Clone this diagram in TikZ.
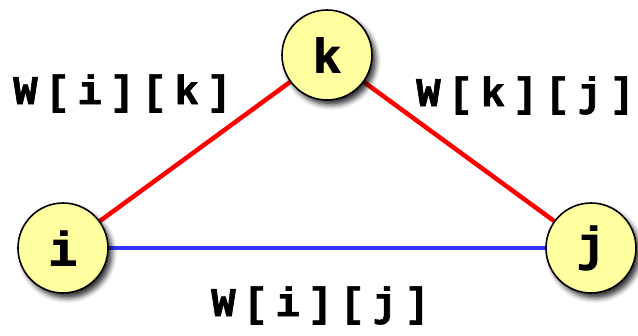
\documentclass[tikz,border=0pt]{standalone}
\usepackage{fontspec}
\usetikzlibrary{shadows.blur}
\definecolor{nodefill}{HTML}{FFFF9F}
\definecolor{edgered}{HTML}{FF0000}
\definecolor{edgeblue}{HTML}{3333FF}
\newfontfamily\labfont[LetterSpace=19, FakeBold=1.6]{Liberation Mono Bold}
\newfontfamily\vtxfont[FakeBold=1.8]{Liberation Mono Bold}
\tikzset{
  vtx/.style={circle, draw=black, line width=1.6bp, fill=nodefill, minimum size=90bp, inner sep=0pt,
    font=\fontsize{48}{48}\selectfont\vtxfont,
    blur shadow={shadow xshift=4bp, shadow yshift=-5bp, shadow blur radius=5bp, shadow opacity=80}},
  redge/.style={draw=edgered, line width=4.5bp},
  bedge/.style={draw=edgeblue, line width=4.5bp},
  lab/.style={font=\fontsize{41}{41}\selectfont\labfont, inner sep=0pt}
}
\begin{document}
\begin{tikzpicture}[x=1bp, y=-1bp]
\useasboundingbox (0,0) rectangle (638,335);
\coordinate (kc) at (327,55);
\coordinate (ic) at (63,248);
\coordinate (jc) at (591,248);
\draw[redge] (ic) -- (kc);
\draw[redge] (kc) -- (jc);
\draw[bedge] (ic) -- (jc);
\node[vtx] (k) at (kc) {k};
\node[vtx] (i) at (ic) {i};
\node[vtx] (j) at (jc) {j};
\node[lab, anchor=base west] (lik) at (13,104) {W[i][k]\kern-0.3em};
\node[lab, anchor=base west] (lkj) at (416,106) {W[k][j]\kern-0.3em};
\node[lab, anchor=base west] (lij) at (211,316) {W[i][j]\kern-0.3em};
\end{tikzpicture}
\end{document}
